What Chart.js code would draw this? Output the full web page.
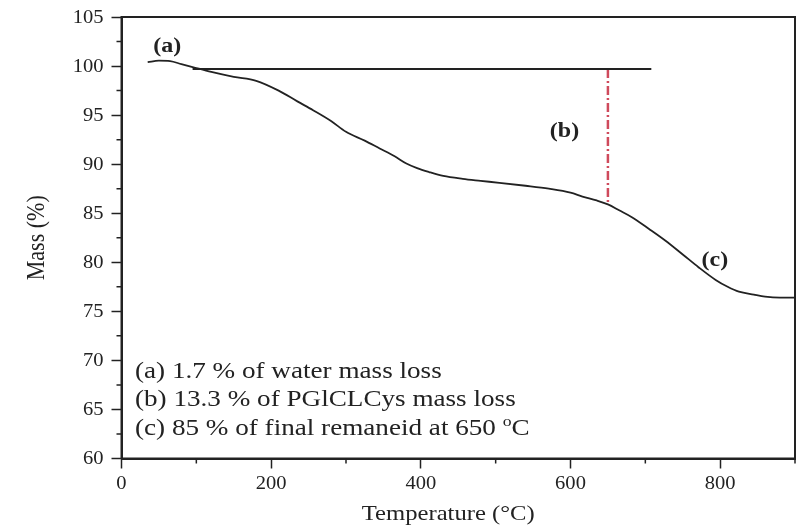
<!DOCTYPE html>
<html>
<head>
<meta charset="utf-8">
<script src="https://cdn.jsdelivr.net/npm/chart.js@4"></script>
<style>
  html, body { margin: 0; padding: 0; background: #fff; }
  #wrap { width: 812px; height: 525px; }
</style>
</head>
<body>
<div id="wrap"><canvas id="tgaChart" width="812" height="525"></canvas></div>
<script>
// TGA curve: temperature (°C) vs residual mass (%)
const temps = [35, 50, 65, 80, 95, 120, 150, 180, 210, 235, 256, 280, 300, 325, 345, 365, 380, 395, 411, 430, 456, 480, 505, 540, 571, 600, 616, 635, 650, 665, 682, 705, 727, 750, 771, 794, 810, 825, 845, 860, 880, 900];
const mass = [100.4, 100.55, 100.5, 100.2, 99.9, 99.4, 98.9, 98.5, 97.5, 96.4, 95.5, 94.4, 93.3, 92.4, 91.6, 90.8, 90.1, 89.6, 89.2, 88.8, 88.5, 88.3, 88.1, 87.8, 87.5, 87.1, 86.7, 86.3, 85.9, 85.3, 84.6, 83.4, 82.2, 80.8, 79.5, 78.2, 77.5, 77.0, 76.7, 76.5, 76.4, 76.4];

// reference level line and the marker at 650 °C
const levelX = [95, 708];
const levelY = [99.7, 99.7];
const markX = [650, 650];
const markY = [99.7, 85.9];

// axis ticks
const xTicks = [0, 200, 400, 600, 800];
const xMinor = [100, 300, 500, 700, 900];
const yTicks = [60, 65, 70, 75, 80, 85, 90, 95, 100, 105];
const yMinor = [62.5, 67.5, 72.5, 77.5, 82.5, 87.5, 92.5, 97.5, 102.5];

// step labels and summary text
const stepLabels = ['(a)', '(b)', '(c)'];
const stepAt = [[61, 102.0], [592, 93.3], [793, 80.1]];
const notes = ['(a) 1.7 % of water mass loss', '(b) 13.3 % of PGlCLCys mass loss', '(c) 85 % of final remaneid at 650 '];
const notesAt = [[18, 68.2], [18, 65.4], [18, 62.35]];

const serif = "'Liberation Serif', 'Times New Roman', serif";
const ink = '#222';

const toPts = (xs, ys) => xs.map((x, i) => ({ x: x, y: ys[i] }));

// text is drawn a little wide, like the rest of the figure
function wideText(ctx, text, x, y, align, sx) {
    ctx.save();
    ctx.translate(x, y);
    ctx.scale(sx, 1);
    ctx.textAlign = align;
    ctx.fillText(text, 0, 0);
    ctx.restore();
}

const decor = {
    id: 'decor',
    afterDraw(chart) {
        const { ctx, chartArea: a, scales: { x, y } } = chart;
        ctx.save();
        // frame
        ctx.strokeStyle = ink;
        ctx.lineWidth = 2;
        ctx.strokeRect(a.left, a.top, a.right - a.left, a.bottom - a.top);
        // minor ticks
        ctx.lineWidth = 1.5;
        ctx.beginPath();
        xMinor.forEach(v => {
            const px = x.getPixelForValue(v);
            ctx.moveTo(px, a.bottom);
            ctx.lineTo(px, a.bottom + 5);
        });
        yMinor.forEach(v => {
            const py = y.getPixelForValue(v);
            ctx.moveTo(a.left, py);
            ctx.lineTo(a.left - 5, py);
        });
        ctx.stroke();

        ctx.fillStyle = ink;

        // tick labels
        ctx.font = '19px ' + serif;
        ctx.textBaseline = 'middle';
        yTicks.forEach(v => wideText(ctx, String(v), a.left - 18, y.getPixelForValue(v) + 1, 'right', 1.08));
        ctx.textBaseline = 'alphabetic';
        xTicks.forEach(v => wideText(ctx, String(v), x.getPixelForValue(v), a.bottom + 30, 'center', 1.08));

        // axis titles
        ctx.font = '22px ' + serif;
        wideText(ctx, 'Temperature (°C)', (a.left + a.right) / 2 - 10, a.bottom + 61, 'center', 1.12);
        ctx.save();
        ctx.translate(38, (a.top + a.bottom) / 2);
        ctx.rotate(-Math.PI / 2);
        ctx.scale(1, 1.12);
        ctx.textAlign = 'center';
        ctx.textBaseline = 'middle';
        ctx.fillText('Mass (%)', 0, 0);
        ctx.restore();

        // (a) (b) (c)
        ctx.font = 'bold 20px ' + serif;
        ctx.textBaseline = 'middle';
        stepLabels.forEach((t, i) => {
            wideText(ctx, t, x.getPixelForValue(stepAt[i][0]), y.getPixelForValue(stepAt[i][1]), 'center', 1.2);
        });

        // summary lines
        const sx = 1.18;
        ctx.font = '23px ' + serif;
        ctx.textBaseline = 'alphabetic';
        notes.forEach((t, i) => {
            const px = x.getPixelForValue(notesAt[i][0]);
            const py = y.getPixelForValue(notesAt[i][1]);
            wideText(ctx, t, px, py, 'left', sx);
            if (i === notes.length - 1) {
                let w = ctx.measureText(t).width * sx;
                ctx.font = '15px ' + serif;
                wideText(ctx, 'o', px + w, py - 9, 'left', sx);
                w += ctx.measureText('o').width * sx;
                ctx.font = '23px ' + serif;
                wideText(ctx, 'C', px + w, py, 'left', sx);
            }
        });
        ctx.restore();
    }
};

new Chart(document.getElementById('tgaChart'), {
    type: 'scatter',
    data: {
        datasets: [{
            data: toPts(temps, mass),
            showLine: true,
            borderColor: ink,
            borderWidth: 1.8,
            pointRadius: 0,
            cubicInterpolationMode: 'monotone'
        }, {
            data: toPts(levelX, levelY),
            showLine: true,
            borderColor: ink,
            borderWidth: 1.8,
            pointRadius: 0
        }, {
            data: toPts(markX, markY),
            showLine: true,
            borderColor: '#cf4a5c',
            borderWidth: 2.5,
            borderDash: [9, 3, 2, 3],
            pointRadius: 0
        }]
    },
    options: {
        responsive: false,
        animation: false,
        layout: { padding: { top: 17, right: 17, left: 0, bottom: 0 } },
        plugins: { legend: { display: false }, tooltip: { enabled: false } },
        scales: {
            x: {
                type: 'linear',
                min: 0,
                max: 900,
                afterBuildTicks: s => { s.ticks = xTicks.map(v => ({ value: v })); },
                afterFit: s => { s.height = 66.5; },
                grid: { drawOnChartArea: false, drawTicks: true, tickLength: 10, tickColor: ink, tickWidth: 1.5 },
                border: { display: true, color: ink, width: 2 },
                ticks: { display: false }
            },
            y: {
                min: 60,
                max: 105,
                afterBuildTicks: s => { s.ticks = yTicks.map(v => ({ value: v })); },
                afterFit: s => { s.width = 121.5; },
                grid: { drawOnChartArea: false, drawTicks: true, tickLength: 10, tickColor: ink, tickWidth: 1.5 },
                border: { display: true, color: ink, width: 2 },
                ticks: { display: false }
            }
        }
    },
    plugins: [decor]
});
</script>
</body>
</html>
